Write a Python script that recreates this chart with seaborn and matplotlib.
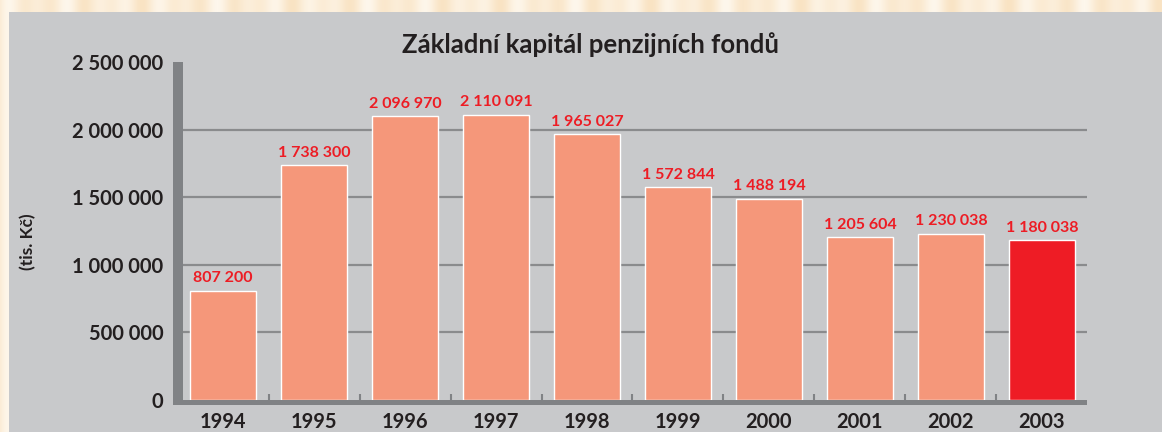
import numpy as np
import matplotlib
matplotlib.use("Agg")
import matplotlib.pyplot as plt
from matplotlib.patches import Rectangle
import seaborn as sns

years = ["1994", "1995", "1996", "1997", "1998", "1999", "2000", "2001", "2002", "2003"]
capital = [807200, 1738300, 2096970, 2110091, 1965027, 1572844, 1488194, 1205604, 1230038, 1180038]
bar_colors = ["#f5977a"] * 9 + ["#ee1c25"]
y_ticks = [0, 500000, 1000000, 1500000, 2000000, 2500000]

title = "Základní kapitál penzijních fondů"
y_label = "(tis. Kč)"

sns.set_theme(style="white")
plt.rcParams["font.family"] = ["Lato", "DejaVu Sans"]

W, H = 1162, 432
fig = plt.figure(figsize=(W / 100, H / 100), dpi=100)
fig.patch.set_facecolor("#fcefd9")

# striped cream frame along the top edge
stripe = 0.5 + 0.5 * np.sin(np.arange(W) / 6.0) * np.cos(np.arange(W) / 23.0)
stripe_ax = fig.add_axes([0, 0, 1, 1], zorder=-3)
stripe_ax.imshow(stripe[None, :], aspect="auto", cmap=matplotlib.colors.LinearSegmentedColormap.from_list(
    "cream", ["#f9e3c3", "#fef7ec"]), extent=[0, 1, 0, 1])
stripe_ax.axis("off")

# gray panel behind the chart
fig.patches.append(Rectangle((9 / W, 0), 1 - 9 / W, 1 - 12 / H, transform=fig.transFigure,
                             facecolor="#c8c9cb", edgecolor="none", zorder=-2))

def fx(px):
    return px / W

def fy(py):
    return 1 - py / H

ax = fig.add_axes([fx(183), fy(400), fx(1087) - fx(183), fy(62) - fy(400)])
ax.set_facecolor("none")

sns.barplot(x=years, y=capital, hue=years, palette=bar_colors, legend=False,
            width=0.725, edgecolor="white", linewidth=1.0, saturation=1, ax=ax, zorder=3)

ax.set_xlim(-0.44, 9.495)
ax.set_ylim(0, 2500000)
ax.set_yticks(y_ticks)
ax.set_yticklabels([f"{v:,}".replace(",", " ") for v in y_ticks])

for y in y_ticks[1:-1]:
    ax.axhline(y, color="#8a8b8d", linewidth=1.6, zorder=1)

for sp in ax.spines.values():
    sp.set_visible(False)

# heavy axis bars on the left and bottom
spine_col = "#808285"
fig.patches.append(Rectangle((fx(173), fy(405)), fx(183) - fx(173), fy(62) - fy(405),
                             transform=fig.transFigure, facecolor=spine_col, edgecolor="none", zorder=5))
fig.patches.append(Rectangle((fx(173), fy(405)), fx(1087) - fx(173), fy(399.5) - fy(405),
                             transform=fig.transFigure, facecolor=spine_col, edgecolor="none", zorder=5))

ax.set_xticks(np.arange(0.5, 9, 1.0), minor=True)
ax.tick_params(axis="x", which="minor", direction="in", length=4, width=1.5, color=spine_col, bottom=True)
ax.tick_params(axis="x", which="major", length=0, pad=9, labelsize=14.5, labelcolor="#231f20")
ax.tick_params(axis="y", which="major", length=0, pad=14, labelsize=14.5, labelcolor="#231f20")
for lab in ax.get_xticklabels() + ax.get_yticklabels():
    lab.set_fontweight("bold")

ax.set_xlabel("")
ax.set_ylabel("")

for i, v in enumerate(capital):
    ax.text(i, v + 40000, f"{v:,}".replace(",", " "), ha="center", va="bottom",
            color="#ed1c24", fontsize=11.5, fontweight="bold", zorder=6)

fig.text(fx(591), fy(45), title, ha="center", va="center", fontsize=18.5,
         fontweight="bold", color="#231f20")
fig.text(fx(28), fy(242), y_label, ha="center", va="center", rotation=90,
         fontsize=12.5, fontweight="bold", color="#231f20")

fig.savefig("out.png", dpi=100, facecolor=fig.get_facecolor())
